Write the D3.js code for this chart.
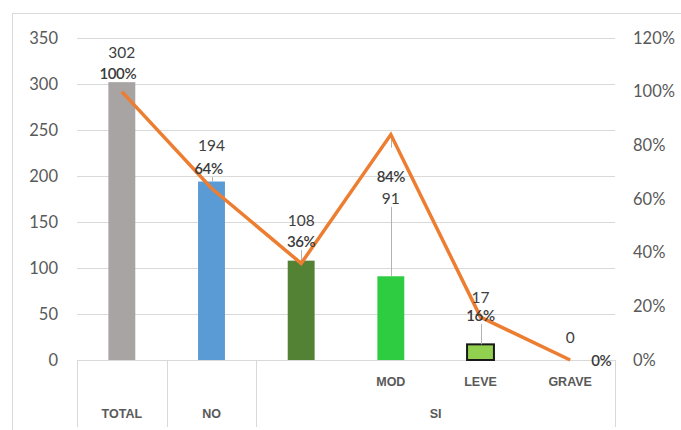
<!DOCTYPE html>
<html>
<head>
<meta charset="utf-8">
<script src="https://cdn.jsdelivr.net/npm/d3@7"></script>
<style>
  html, body { margin: 0; padding: 0; background: #fff; }
  svg { display: block; }
</style>
</head>
<body>
<svg id="chart" width="681" height="430"></svg>
<script>
// ---- data ----
const categories = ["TOTAL", "NO", "SI", "MOD", "LEVE", "GRAVE"];
const subLabels = ["", "", "", "MOD", "LEVE", "GRAVE"];
const groups = [
  { label: "TOTAL", from: 0, to: 0 },
  { label: "NO", from: 1, to: 1 },
  { label: "SI", from: 2, to: 5 }
];
const counts = [302, 194, 108, 91, 17, 0];
const shares = [1.00, 0.64, 0.36, 0.84, 0.16, 0.00];
const countTicks = [0, 50, 100, 150, 200, 250, 300, 350];
const shareTicks = [0, 0.2, 0.4, 0.6, 0.8, 1.0, 1.2];

// ---- look ----
const barColors = ["#a8a4a3", "#5b9bd5", "#548235", "#2ecc40", "#92d050", "#92d050"];
const barStroke = [null, null, null, null, "#1a1a1a", null];
// label placement (px) relative to bar top / line point
const valueLabelDy = [-30, -36.5, -40.6, -78.3, -47.4, -23];
const shareLabelDy = [-18.7, -20.3, -22.4, 41.4, -2, 0];
const shareLabelDx = [-4, -3, 0, 0, 0, 31];

const font = "Lato, 'Open Sans', sans-serif";
const svg = d3.select("#chart");

// frame
svg.append("rect")
  .attr("x", 12.5).attr("y", 13.5)
  .attr("width", 720).attr("height", 460)
  .attr("fill", "none").attr("stroke", "#d9d9d9");

const plotLeft = 77, plotRight = 615, plotTop = 38, plotBottom = 360;

const x = d3.scaleBand().domain(d3.range(categories.length)).range([plotLeft, plotRight]).padding(0);
const y = d3.scaleLinear().domain([0, 350]).range([plotBottom, plotTop]);
const yp = d3.scaleLinear().domain([0, 1.2]).range([plotBottom, plotTop]);
const cx = i => x(i) + x.bandwidth() / 2;
const barW = x.bandwidth() * 0.3;

// gridlines
svg.append("g")
  .selectAll("line").data(countTicks.filter(t => t > 0)).join("line")
  .attr("x1", plotLeft).attr("x2", plotRight)
  .attr("y1", d => Math.round(y(d)) + 0.5).attr("y2", d => Math.round(y(d)) + 0.5)
  .attr("stroke", "#d9d9d9").attr("stroke-width", 1);

// left axis
const axL = svg.append("g").attr("transform", `translate(${plotLeft},0)`)
  .call(d3.axisLeft(y).tickValues(countTicks).tickSize(0).tickPadding(19));
axL.select(".domain").remove();
axL.selectAll("text").attr("font-family", font).attr("font-size", 16.5).attr("fill", "#595959");

// right axis
const axR = svg.append("g").attr("transform", `translate(${plotRight},0)`)
  .call(d3.axisRight(yp).tickValues(shareTicks).tickSize(0).tickPadding(18).tickFormat(d3.format(".0%")));
axR.select(".domain").remove();
axR.selectAll("text").attr("font-family", font).attr("font-size", 16.5).attr("fill", "#595959");

// category axis: baseline and group dividers
svg.append("line")
  .attr("x1", plotLeft).attr("x2", plotRight).attr("y1", plotBottom + 0.5).attr("y2", plotBottom + 0.5)
  .attr("stroke", "#d9d9d9");
const dividers = [plotLeft].concat(groups.map(g => x(g.to) + x.bandwidth()));
svg.append("g").selectAll("line").data(dividers).join("line")
  .attr("x1", d => Math.round(d) + 0.5).attr("x2", d => Math.round(d) + 0.5)
  .attr("y1", plotBottom).attr("y2", 427)
  .attr("stroke", "#d9d9d9");

svg.append("g").selectAll("text").data(subLabels).join("text")
  .attr("x", (d, i) => cx(i)).attr("y", 382)
  .attr("text-anchor", "middle").attr("dominant-baseline", "central")
  .attr("font-family", "'Liberation Sans Narrow', 'Liberation Sans', sans-serif")
  .attr("font-size", 12.5).attr("font-weight", "bold").attr("fill", "#595959")
  .text(d => d);

svg.append("g").selectAll("text").data(groups).join("text")
  .attr("x", g => (x(g.from) + x(g.to) + x.bandwidth()) / 2).attr("y", 414)
  .attr("text-anchor", "middle").attr("dominant-baseline", "central")
  .attr("font-family", "'Liberation Sans Narrow', 'Liberation Sans', sans-serif")
  .attr("font-size", 12.5).attr("font-weight", "bold").attr("fill", "#595959")
  .text(g => g.label);

// bars
svg.append("g").selectAll("rect").data(counts).join("rect")
  .attr("x", (d, i) => cx(i) - barW / 2)
  .attr("y", d => y(d))
  .attr("width", barW)
  .attr("height", d => plotBottom - y(d))
  .attr("fill", (d, i) => barColors[i])
  .attr("stroke", (d, i) => barStroke[i] && d > 0 ? barStroke[i] : "none")
  .attr("stroke-width", 2);

// leader lines from labels to marks
const leaders = [];
counts.forEach((d, i) => {
  if (d <= 0) return;
  const vy = y(d) + valueLabelDy[i];
  const py = yp(shares[i]) + shareLabelDy[i];
  const from = Math.max(vy, py) + 9;
  if (y(d) - from > 3) leaders.push({ x: cx(i), y1: from, y2: y(d) });
  if (shareLabelDy[i] > 20) leaders.push({ x: cx(i), y1: yp(shares[i]), y2: yp(shares[i]) + 13 });
});
svg.append("g").selectAll("line").data(leaders).join("line")
  .attr("x1", d => Math.round(d.x) + 0.5).attr("x2", d => Math.round(d.x) + 0.5)
  .attr("y1", d => d.y1).attr("y2", d => d.y2)
  .attr("stroke", "#b3b3b3").attr("stroke-width", 1);

// cumulative share line
const line = d3.line().x((d, i) => cx(i)).y(d => yp(d));
svg.append("path").datum(shares)
  .attr("d", line)
  .attr("fill", "none").attr("stroke", "#ed7d31").attr("stroke-width", 3.5)
  .attr("stroke-linejoin", "miter");

// value labels
svg.append("g").selectAll("text").data(counts).join("text")
  .attr("x", (d, i) => cx(i)).attr("y", (d, i) => y(d) + valueLabelDy[i])
  .attr("text-anchor", "middle").attr("dominant-baseline", "central")
  .attr("font-family", font).attr("font-size", 15.5).attr("fill", "#404040")
  .text(d => d);

// share labels
svg.append("g").selectAll("text").data(shares).join("text")
  .attr("x", (d, i) => cx(i) + shareLabelDx[i]).attr("y", (d, i) => yp(d) + shareLabelDy[i])
  .attr("text-anchor", "middle").attr("dominant-baseline", "central")
  .attr("font-family", font).attr("font-size", 15).attr("font-weight", 600)
  .attr("letter-spacing", -0.4).attr("fill", "#3a3a3a")
  .text(d => d3.format(".0%")(d));
</script>
</body>
</html>
